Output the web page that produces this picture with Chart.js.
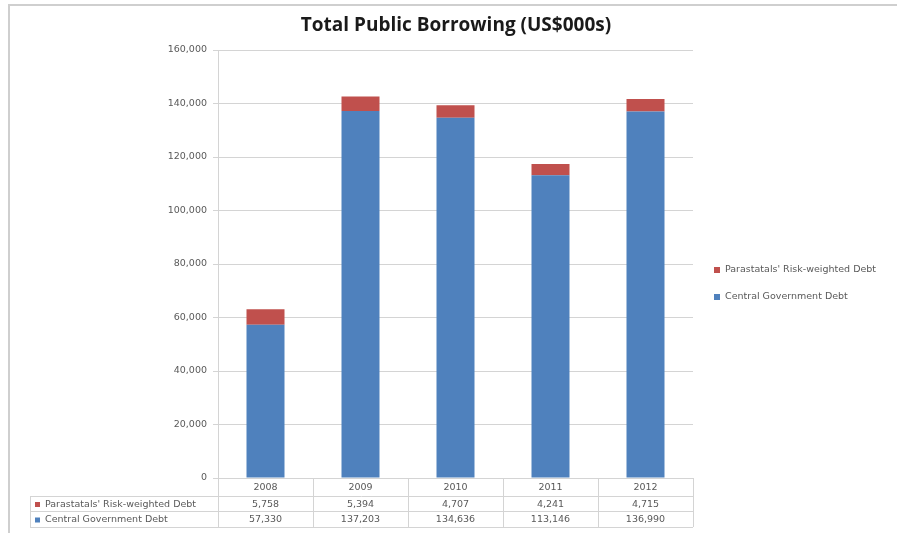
<!DOCTYPE html>
<html>
<head>
<meta charset="utf-8">
<script src="https://cdn.jsdelivr.net/npm/chart.js@4.4.1/dist/chart.umd.min.js"></script>
<style>
  body { margin: 0; background: #fff; }
  #wrap { position: relative; width: 897px; height: 533px; }
  #frame { position: absolute; left: 8px; top: 4px; right: -2px; bottom: -2px; border-left: 2px solid #cfcfcf; border-top: 2px solid #cfcfcf; }
  canvas { position: absolute; left: 0; top: 0; }
</style>
</head>
<body>
<div id="wrap">
  <div id="frame"></div>
  <canvas id="chart" width="897" height="533"></canvas>
</div>
<script>
const years = ['2008', '2009', '2010', '2011', '2012'];
const centralDebt = [57330, 137203, 134636, 113146, 136990];
const parastatalDebt = [5758, 5394, 4707, 4241, 4715];
const yTicks = [0, 20000, 40000, 60000, 80000, 100000, 120000, 140000, 160000];

const blue = '#4f81bd';
const red = '#c0504d';
const textGray = '#595959';
const lineGray = '#d4d4d4';
const smallFont = '9.5px "DejaVu Sans", sans-serif';

const fmt = v => v.toLocaleString('en-US');

// draws title, legend and the data table under the plot
const extras = {
  id: 'extras',
  afterDraw(chart) {
    const ctx = chart.ctx;
    const x = chart.scales.x;
    const area = chart.chartArea;

    ctx.save();
    ctx.fillStyle = '#1a1a1a';
    ctx.font = 'bold 19px "Open Sans", sans-serif';
    ctx.textAlign = 'center';
    ctx.textBaseline = 'middle';
    ctx.fillText('Total Public Borrowing (US$000s)', 456, 26);

    // legend
    const legendItems = [
      { label: "Parastatals' Risk-weighted Debt", color: red, y: 270 },
      { label: 'Central Government Debt', color: blue, y: 297 }
    ];
    ctx.font = smallFont;
    ctx.textAlign = 'left';
    legendItems.forEach(item => {
      ctx.fillStyle = item.color;
      ctx.fillRect(714, item.y - 3, 6, 6);
      ctx.fillStyle = textGray;
      ctx.fillText(item.label, 725, item.y);
    });

    // data table
    const half = (x.getPixelForValue(1) - x.getPixelForValue(0)) / 2;
    const rowTop = [area.bottom, 496, 511, 527];
    const rows = [
      { label: "Parastatals' Risk-weighted Debt", color: red, values: parastatalDebt },
      { label: 'Central Government Debt', color: blue, values: centralDebt }
    ];
    ctx.strokeStyle = lineGray;
    ctx.lineWidth = 1;
    ctx.beginPath();
    for (let i = 0; i <= years.length; i++) {
      const px = Math.round(x.getPixelForValue(i) - half) + 0.5;
      ctx.moveTo(px, rowTop[0]);
      ctx.lineTo(px, rowTop[3]);
    }
    ctx.moveTo(30.5, rowTop[1]);
    ctx.lineTo(30.5, rowTop[3]);
    for (let r = 1; r <= 3; r++) {
      ctx.moveTo(30, rowTop[r] + 0.5);
      ctx.lineTo(area.right, rowTop[r] + 0.5);
    }
    ctx.stroke();

    ctx.fillStyle = textGray;
    ctx.font = smallFont;
    ctx.textAlign = 'center';
    years.forEach((yr, i) => {
      ctx.fillText(yr, x.getPixelForValue(i), (rowTop[0] + rowTop[1]) / 2 + 1);
    });
    rows.forEach((row, r) => {
      const cy = (rowTop[r + 1] + rowTop[r + 2]) / 2 + 1;
      ctx.fillStyle = row.color;
      ctx.fillRect(35, cy - 2.5, 5, 5);
      ctx.fillStyle = textGray;
      ctx.textAlign = 'left';
      ctx.fillText(row.label, 45, cy);
      ctx.textAlign = 'center';
      row.values.forEach((v, i) => ctx.fillText(fmt(v), x.getPixelForValue(i), cy));
    });
    ctx.restore();
  }
};

new Chart(document.getElementById('chart'), {
  type: 'bar',
  data: {
    labels: years,
    datasets: [
      { label: 'Central Government Debt', data: centralDebt, backgroundColor: blue, barPercentage: 0.4, categoryPercentage: 1 },
      { label: "Parastatals' Risk-weighted Debt", data: parastatalDebt, backgroundColor: red, barPercentage: 0.4, categoryPercentage: 1 }
    ]
  },
  options: {
    responsive: false,
    animation: false,
    layout: { padding: { left: 0, top: 50, right: 204, bottom: 55 } },
    plugins: {
      legend: { display: false },
      title: { display: false },
      tooltip: { enabled: false }
    },
    scales: {
      x: {
        stacked: true,
        grid: { display: false },
        border: { display: true, color: lineGray },
        ticks: { display: false },
        afterFit: s => { s.height = 0; }
      },
      y: {
        stacked: true,
        min: 0,
        max: 160000,
        afterBuildTicks: s => { s.ticks = yTicks.map(v => ({ value: v })); },
        afterFit: s => { s.width = 218; },
        grid: { color: lineGray, tickLength: 5 },
        border: { color: lineGray },
        ticks: {
          color: textGray,
          padding: 6,
          font: { size: 9.5, family: '"DejaVu Sans", sans-serif' },
          callback: v => fmt(v)
        }
      }
    }
  },
  plugins: [extras]
});
</script>
</body>
</html>
